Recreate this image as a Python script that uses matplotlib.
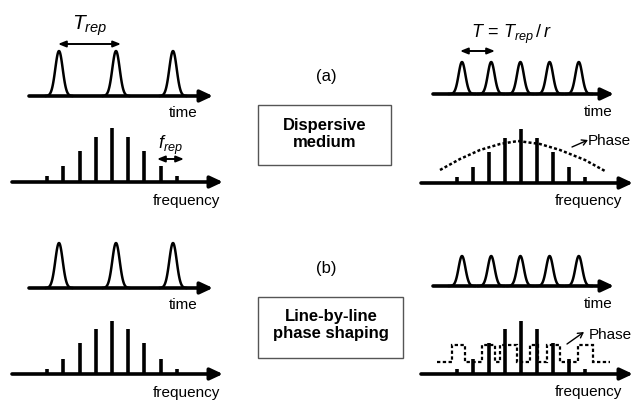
import numpy as np
import matplotlib.pyplot as plt
from matplotlib.patches import Rectangle

plt.rcParams["font.family"] = ["Liberation Sans", "DejaVu Sans"]
plt.rcParams["mathtext.fontset"] = "custom"
plt.rcParams["mathtext.it"] = "Liberation Sans:italic"
plt.rcParams["mathtext.rm"] = "Liberation Sans"

# pulse slots (in units of the pulse spacing)
pulses_in = [0, 1, 2]
pulses_out = [0, 1, 2, 3, 4]

# comb line heights above the frequency axis
comb_a = [6, 16, 31, 45, 54, 45, 31, 16, 6]
comb_b = [1.5, 5, 15, 31, 45, 53, 45, 31, 15, 5, 1.5]

# quadratic spectral phase of the dispersive medium (offset from centre, height)
quad_phase_x = [-81, -61, -41, -21, -3, 19, 39, 64, 84]
quad_phase_h = [13, 24, 33, 39, 42, 39, 33, 23, 12]

# binary phase pattern of the line-by-line shaper
step_edges = [-84, -69, -56, -39, -26, -21, -4, 9, 17, 26, 39, 57, 72, 89]
step_levels = [0, 1, 0, 1, 0, 1, 0, 1, 0, 1, 0, 1, 0]

W, H = 634, 402
fig = plt.figure(figsize=(W / 100, H / 100), dpi=100)
ax = fig.add_axes([0, 0, 1, 1])
ax.set_xlim(0, W)
ax.set_ylim(H, 0)
ax.axis("off")


def axis_arrow(x0, x1, y):
    ax.annotate("", xy=(x1, y), xytext=(x0, y),
                arrowprops=dict(arrowstyle="-|>,head_length=0.75,head_width=0.35",
                                lw=2.6, color="black", shrinkA=0, shrinkB=0))


def span_arrow(x0, x1, y):
    ax.annotate("", xy=(x1, y), xytext=(x0, y),
                arrowprops=dict(arrowstyle="<|-|>,head_length=0.45,head_width=0.18",
                                lw=1.4, color="black", shrinkA=0, shrinkB=0))


def pulse_train(x0, spacing, slots, y0, amp, sigma):
    for s in slots:
        c = x0 + s * spacing
        x = np.linspace(c - 13, c + 13, 80)
        ax.plot(x, y0 - amp * np.exp(-0.5 * ((x - c) / sigma) ** 2), color="black", lw=1.8)


def comb(xc, spacing, heights, y0):
    n = len(heights)
    xs = xc + (np.arange(n) - (n - 1) / 2) * spacing
    ax.vlines(xs, y0, y0 - np.array(heights), color="black", lw=2.6)


# ---- left column: input pulse train ----
for y_t, y_f, lines in [(97, 183, comb_a), (289, 375, comb_b)]:
    pulse_train(59, 57, pulses_in, y_t, 45, 3.7)
    axis_arrow(29, 213, y_t)
    ax.text(198, y_t + 16, "time", fontsize=11, ha="right", va="center")
    comb(112, 16.2, lines, y_f)
    axis_arrow(12, 223, y_f)
    ax.text(220, y_f + 18, "frequency", fontsize=11, ha="right", va="center")

span_arrow(58, 121, 45)
ax.text(90, 26, "$T_{rep}$", fontsize=15, ha="center", va="center")
span_arrow(157, 184, 160)
ax.text(170, 145, "$f_{rep}$", fontsize=13, ha="center", va="center")

# ---- right column: multiplied pulse train ----
for y_t, y_f, amp, lines in [(95, 184, 32, comb_a), (287, 375, 30, comb_b)]:
    pulse_train(462, 29.2, pulses_out, y_t, amp, 3.4)
    axis_arrow(433, 614, y_t)
    ax.text(613, y_t + 17, "time", fontsize=11, ha="right", va="center")
    comb(521, 15.9, lines, y_f)
    axis_arrow(421, 633, y_f)
    ax.text(622, y_f + 17, "frequency", fontsize=11, ha="right", va="center")

span_arrow(460, 495, 52)
ax.text(511, 34, r"$T\,=\,T_{rep}\,/\,r$", fontsize=13, ha="center", va="center")

# dispersive (quadratic) phase
ax.plot(521 + np.array(quad_phase_x), 184 - np.array(quad_phase_h),
        color="black", lw=1.8, ls=(0, (1.2, 0.9)))
ax.annotate("", xy=(588, 141), xytext=(572, 148),
            arrowprops=dict(arrowstyle="->,head_length=0.35,head_width=0.2",
                            lw=1.0, color="black", shrinkA=0, shrinkB=0))
ax.text(588, 141, "Phase", fontsize=11, ha="left", va="center")

# line-by-line binary phase
lev = 363 - 17 * np.array(step_levels)
ax.stairs(lev, 521 + np.array(step_edges), baseline=None,
          color="black", lw=1.6, ls=(0, (1.5, 1.1)))
ax.annotate("", xy=(584, 333), xytext=(567, 345),
            arrowprops=dict(arrowstyle="->,head_length=0.35,head_width=0.2",
                            lw=1.0, color="black", shrinkA=0, shrinkB=0))
ax.text(589, 335, "Phase", fontsize=11, ha="left", va="center")

# ---- centre: labels and boxes ----
ax.text(326, 77, "(a)", fontsize=12, ha="center", va="center")
ax.add_patch(Rectangle((258, 106), 133, 60, fill=False, edgecolor="#555555", lw=1.0))
ax.text(325, 134, "Dispersive\nmedium", fontsize=12, fontweight="bold",
        ha="center", va="center", linespacing=1.15)

ax.text(326, 269, "(b)", fontsize=12, ha="center", va="center")
ax.add_patch(Rectangle((258, 298), 145, 61, fill=False, edgecolor="#555555", lw=1.0))
ax.text(331, 325, "Line-by-line\nphase shaping", fontsize=12, fontweight="bold",
        ha="center", va="center", linespacing=1.15)

fig.savefig("out.png", dpi=100)
